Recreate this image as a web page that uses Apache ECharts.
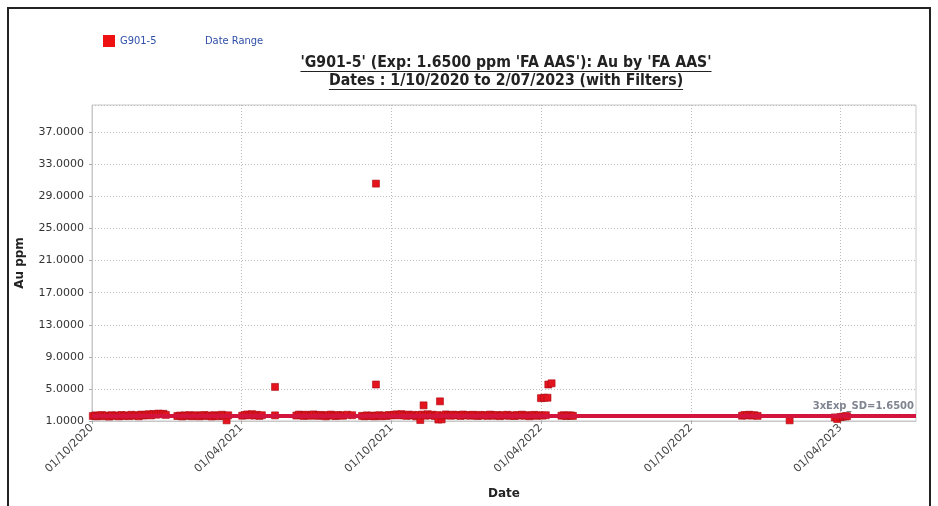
<!DOCTYPE html>
<html>
<head>
<meta charset="utf-8">
<script src="https://cdn.jsdelivr.net/npm/echarts@6/dist/echarts.min.js"></script>
<style>
html,body{margin:0;padding:0;background:#fff;}
#frame{position:absolute;left:7px;top:7px;width:924px;height:510px;border:2px solid #222;border-bottom:none;box-sizing:border-box;}
#chart{position:absolute;left:0;top:0;width:938px;height:506px;}
</style>
</head>
<body>
<div id="frame"></div>
<div id="chart"></div>
<script>
// ---- data ----
const titleLine1 = "'G901-5' (Exp: 1.6500 ppm 'FA AAS'): Au by 'FA AAS'";
const titleLine2 = "Dates : 1/10/2020 to 2/07/2023 (with Filters)";
const seriesName = 'G901-5';
const rangeName = 'Date Range';
const expectedValue = 1.65;
const expectedLabel = '3xExp_SD=1.6500';
const xTickLabels = ['01/10/2020','01/04/2021','01/10/2021','01/04/2022','01/10/2022','01/04/2023'];
const xMinDate = '01/10/2020';
const xMaxDate = '02/07/2023';
const yTicks = [1,5,9,13,17,21,25,29,33,37];

const sampleDates = [
'2020-10-02','2020-10-05','2020-10-07','2020-10-10','2020-10-13','2020-10-16','2020-10-19','2020-10-22','2020-10-25','2020-10-28','2020-10-31',
'2020-11-03','2020-11-06','2020-11-09','2020-11-12','2020-11-15','2020-11-18','2020-11-21','2020-11-24','2020-11-27','2020-11-30',
'2020-12-03','2020-12-06','2020-12-09','2020-12-12','2020-12-15','2020-12-18','2020-12-21','2020-12-24','2020-12-27','2020-12-30',
'2021-01-13','2021-01-16','2021-01-19','2021-01-22','2021-01-25','2021-01-28','2021-01-31','2021-02-03','2021-02-06','2021-02-09',
'2021-02-12','2021-02-15','2021-02-18','2021-02-21','2021-02-24','2021-02-27','2021-03-02','2021-03-05','2021-03-08','2021-03-11',
'2021-03-14','2021-03-16',
'2021-04-02','2021-04-05','2021-04-08','2021-04-11','2021-04-14','2021-04-17','2021-04-20','2021-04-23','2021-04-26',
'2021-05-12','2021-05-12',
'2021-06-07','2021-06-10','2021-06-13','2021-06-16','2021-06-19','2021-06-22','2021-06-25','2021-06-28','2021-07-01','2021-07-04',
'2021-07-07','2021-07-10','2021-07-13','2021-07-16','2021-07-19','2021-07-22','2021-07-25','2021-07-28','2021-07-31','2021-08-03',
'2021-08-08','2021-08-14',
'2021-08-26','2021-08-29','2021-09-01','2021-09-04','2021-09-07','2021-09-10','2021-09-12','2021-09-12','2021-09-13','2021-09-16',
'2021-09-19','2021-09-22','2021-09-25','2021-09-28','2021-10-01','2021-10-04','2021-10-07','2021-10-10','2021-10-13','2021-10-16',
'2021-10-19','2021-10-22','2021-10-25','2021-10-28','2021-10-31','2021-11-03','2021-11-05','2021-11-07','2021-11-09','2021-11-11',
'2021-11-14','2021-11-17','2021-11-20','2021-11-23','2021-11-26','2021-11-27','2021-11-29','2021-12-01','2021-12-03','2021-12-06',
'2021-12-09','2021-12-12','2021-12-15','2021-12-18','2021-12-21','2021-12-24','2021-12-27','2021-12-30',
'2022-01-02','2022-01-05','2022-01-08','2022-01-11','2022-01-14','2022-01-17','2022-01-20','2022-01-23','2022-01-26','2022-01-29',
'2022-02-01','2022-02-04','2022-02-07','2022-02-10','2022-02-13','2022-02-16','2022-02-19','2022-02-22','2022-02-25','2022-02-28',
'2022-03-03','2022-03-06','2022-03-09','2022-03-12','2022-03-15','2022-03-18','2022-03-21','2022-03-24','2022-03-27','2022-03-30',
'2022-04-01','2022-04-03','2022-04-05','2022-04-07','2022-04-09','2022-04-10','2022-04-14',
'2022-04-26','2022-04-29','2022-05-02','2022-05-05','2022-05-08','2022-05-10',
'2022-12-02','2022-12-05','2022-12-08','2022-12-11','2022-12-14','2022-12-17','2022-12-21',
'2023-01-29',
'2023-03-25','2023-03-28','2023-04-01','2023-04-04','2023-04-07','2023-04-09'
];
const sampleValues = [
1.62,1.70,1.58,1.66,1.74,1.60,1.68,1.55,1.72,1.64,1.69,
1.58,1.75,1.63,1.70,1.61,1.77,1.66,1.72,1.59,1.80,
1.68,1.74,1.85,1.70,1.88,1.79,1.92,1.84,1.90,1.76,
1.62,1.68,1.57,1.70,1.64,1.73,1.60,1.66,1.71,1.58,
1.67,1.75,1.62,1.69,1.56,1.72,1.65,1.60,1.78,1.66,
1.08,1.71,
1.66,1.74,1.82,1.70,1.85,1.68,1.77,1.64,1.72,
1.70,5.25,
1.68,1.80,1.74,1.62,1.78,1.70,1.66,1.82,1.72,1.64,
1.76,1.69,1.58,1.73,1.80,1.67,1.61,1.75,1.70,1.66,
1.78,1.72,
1.64,1.59,1.70,1.62,1.67,1.58,5.55,30.6,1.66,1.72,
1.60,1.68,1.63,1.75,1.69,1.78,1.82,1.70,1.86,1.74,
1.64,1.80,1.68,1.76,1.58,1.72,1.12,1.80,2.95,1.66,
1.84,1.70,1.78,1.62,1.74,1.18,3.45,1.20,1.68,1.82,
1.72,1.66,1.79,1.70,1.75,1.63,1.81,1.69,
1.74,1.66,1.78,1.70,1.62,1.76,1.68,1.73,1.64,1.80,
1.70,1.66,1.75,1.61,1.72,1.68,1.77,1.65,1.70,1.62,
1.74,1.68,1.79,1.66,1.72,1.60,1.70,1.76,1.65,1.71,
3.85,1.68,3.90,1.72,3.90,5.55,5.70,
1.66,1.72,1.62,1.70,1.68,1.64,
1.66,1.74,1.70,1.78,1.68,1.72,1.64,
1.08,
1.45,1.25,1.50,1.55,1.58,1.60
];

// ---- helpers ----
function parseDMY(s){ const p = s.split('/'); return new Date(+p[2], +p[1]-1, +p[0]).getTime(); }
function parseYMD(s){ const p = s.split('-'); return new Date(+p[0], +p[1]-1, +p[2]).getTime(); }
function pad(n){ return (n<10?'0':'')+n; }
function fmtDMY(v){ const d=new Date(v); return pad(d.getDate())+'/'+pad(d.getMonth()+1)+'/'+d.getFullYear(); }

const xTickValues = xTickLabels.map(parseDMY);
const scatterData = sampleDates.map((d,i)=>[parseYMD(d), sampleValues[i]]);

const chart = echarts.init(document.getElementById('chart'), null, {renderer:'canvas'});

// fit title font so line 1 spans the reference width
const ctx = document.createElement('canvas').getContext('2d');
ctx.font = 'bold 12px "DejaVu Sans Condensed"';
const titleSize = Math.round(12 * 412 / ctx.measureText(titleLine1).width * 10) / 10;
const titleFont = 'bold ' + titleSize + 'px "DejaVu Sans Condensed"';
ctx.font = titleFont;
const w1 = ctx.measureText(titleLine1).width;
const w2 = ctx.measureText(titleLine2).width;
const cx = 506;

// legend text width for item gap
ctx.font = '11px "DejaVu Sans Condensed"';
const legW = ctx.measureText(seriesName).width;
const legGap = Math.max(4, 188 - (103 + 12 + 5 + legW));

chart.setOption({
  backgroundColor: 'transparent',
  animation: false,
  textStyle: {fontFamily: '"DejaVu Sans", sans-serif'},
  legend: {
    left: 103, top: 35, padding: 0,
    itemWidth: 12, itemHeight: 12, itemGap: legGap,
    itemStyle: {borderWidth: 0, color: '#ee1111'},
    textStyle: {color: '#3050a8', fontSize: 11, fontFamily: '"DejaVu Sans Condensed","DejaVu Sans"'},
    data: [{name: seriesName, icon: 'rect'}, {name: rangeName, icon: 'none'}]
  },
  graphic: [
    {type:'text', x: cx, y: 63, style:{text: titleLine1, font: titleFont, fill:'#222', align:'center', verticalAlign:'middle'}},
    {type:'text', x: cx, y: 81, style:{text: titleLine2, font: titleFont, fill:'#222', align:'center', verticalAlign:'middle'}},
    {type:'line', shape:{x1: cx - w1/2, y1: 71.5, x2: cx + w1/2, y2: 71.5}, style:{stroke:'#222', lineWidth:1}},
    {type:'line', shape:{x1: cx - w2/2, y1: 89.5, x2: cx + w2/2, y2: 89.5}, style:{stroke:'#222', lineWidth:1}}
  ],
  grid: {left: 92, right: 22, top: 105, bottom: 85, show: true, borderColor: '#c8c8c8', borderWidth: 1, backgroundColor: '#fff'},
  xAxis: {
    type: 'value',
    min: parseDMY(xMinDate),
    max: parseDMY(xMaxDate),
    name: 'Date', nameLocation: 'middle', nameGap: 67,
    nameTextStyle: {fontWeight: 'bold', fontSize: 12, color: '#222'},
    axisLine: {show: true, lineStyle: {color: '#c8c8c8'}},
    axisTick: {show: true, customValues: xTickValues, length: 3, lineStyle:{color:'#aaa'}},
    axisLabel: {customValues: xTickValues, rotate: 45, formatter: fmtDMY, color: '#444', fontSize: 11, margin: 5},
    splitLine: {show: true, lineStyle: {color: '#bbb', type: [1,2], width: 1}}
  },
  yAxis: {
    type: 'value',
    min: 1, max: 40.4, interval: 4,
    name: 'Au ppm', nameLocation: 'middle', nameGap: 66,
    nameTextStyle: {fontWeight: 'bold', fontSize: 12, color: '#222'},
    axisLine: {show: true, lineStyle: {color: '#c8c8c8'}},
    axisTick: {show: true, length: 3, lineStyle:{color:'#aaa'}},
    axisLabel: {formatter: v => yTicks.indexOf(v) >= 0 ? v.toFixed(4) : '', color: '#333', fontSize: 11, margin: 8, showMaxLabel: false},
    splitLine: {show: true, lineStyle: {color: '#bbb', type: [1,2], width: 1}}
  },
  series: [
    {
      name: seriesName,
      type: 'scatter',
      symbol: 'rect',
      symbolSize: 7,
      itemStyle: {color: '#e4141e', borderColor: '#a80c14', borderWidth: 0.6, opacity: 1},
      data: scatterData,
      z: 3,
      markLine: {
        silent: true,
        symbol: 'none',
        z: 4,
        lineStyle: {color: '#d3143c', width: 4, type: 'solid'},
        label: {show: true, position: 'insideEndTop', formatter: expectedLabel, color: '#7f8590', fontSize: 10, fontWeight: 'bold', lineHeight: 14, distance: [2, 2]},
        data: [{yAxis: expectedValue}]
      }
    },
    {
      name: rangeName,
      type: 'line',
      data: [],
      itemStyle: {color: 'transparent'}
    }
  ]
});
</script>
</body>
</html>
